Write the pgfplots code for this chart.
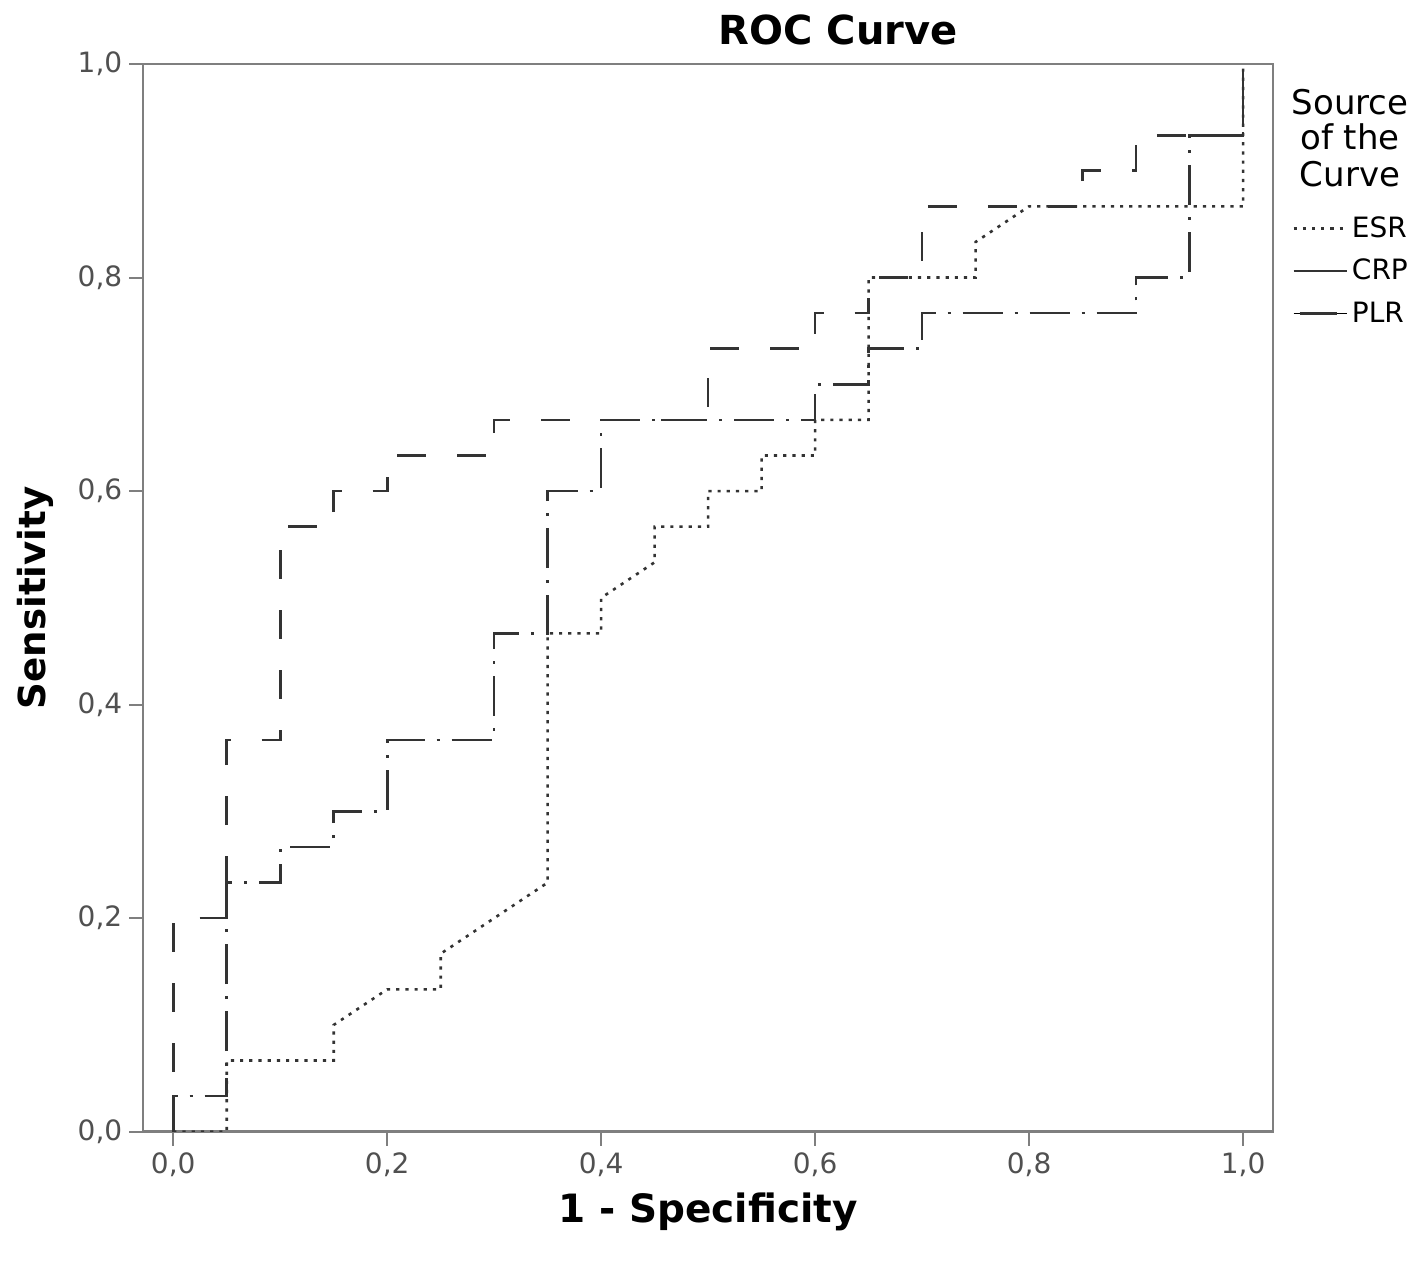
\documentclass[border=0pt]{standalone}
\usepackage{pgfplots}
\pgfplotsset{compat=1.18}
\usepackage{fontspec}
\setmainfont{DejaVu Sans}
\setsansfont{DejaVu Sans}
\definecolor{curve}{HTML}{333333}
\definecolor{framec}{HTML}{7F7F7F}
\definecolor{tickc}{HTML}{505050}
\begin{document}
\begin{tikzpicture}
\useasboundingbox (-71.65pt,-65.15pt) rectangle (637.35pt,565.85pt);
\begin{axis}[
  at={(0pt,0pt)}, anchor=south west,
  scale only axis,
  width=564.85pt, height=533.85pt,
  xmin=-0.028, xmax=1.028, ymin=0, ymax=1,
  xtick={0,0.2,0.4,0.6,0.8,1.0},
  ytick={0,0.2,0.4,0.6,0.8,1.0},
  tick align=outside,
  xtick pos=left, ytick pos=left,
  major tick length=7pt,
  tick style={draw=framec, line width=1pt},
  axis line style={draw=framec, line width=1.2pt},
  ticklabel style={font=\fontsize{14}{16}\selectfont, color=tickc},
  /pgf/number format/fixed, /pgf/number format/fixed zerofill,
  /pgf/number format/precision=1, /pgf/number format/use comma,
  /pgf/number format/assume math mode=true,
  xlabel={1 - Specificity},
  xlabel style={font=\bfseries\fontsize{19.5}{22}\selectfont, at={(axis description cs:0.5,-0.0846)}, anchor=base},
  ylabel={Sensitivity},
  ylabel style={font=\bfseries\fontsize{18.6}{22}\selectfont, at={(axis description cs:-0.087,0.5)}, anchor=base},
  legend style={at={(axis description cs:1.0168,0.8614)}, anchor=north west, draw=none, fill=none, inner sep=0pt,
    font=\fontsize{14}{16}\selectfont, row sep=5.5pt,
    /tikz/every even column/.append style={column sep=4pt}},
  legend cell align=left,
]
\addlegendimage{legend image code/.code={\draw[curve, line width=1.3pt, dash pattern=on 1.6pt off 3pt] (0pt,0pt) -- (26.5pt,0pt);}}
\addlegendentry{ESR}
\addlegendimage{legend image code/.code={\draw[curve, line width=1.3pt] (0pt,0pt) -- (26.5pt,0pt);}}
\addlegendentry{CRP}
\addlegendimage{legend image code/.code={\path (0pt,0pt) -- (26.5pt,0pt); \draw[curve, line width=1.3pt] (3pt,0pt) -- (21.5pt,0pt);}}
\addlegendentry{PLR}

% ESR (dotted)
\addplot[curve, line width=1.3pt, dash pattern=on 1.6pt off 3pt, forget plot] coordinates {
(0,0) (0.05,0) (0.05,0.0667) (0.15,0.0667) (0.15,0.1) (0.2,0.1333) (0.25,0.1333) (0.25,0.1667)
(0.35,0.2333) (0.35,0.4667) (0.4,0.4667) (0.4,0.5) (0.45,0.5333) (0.45,0.5667) (0.5,0.5667)
(0.5,0.6) (0.55,0.6) (0.55,0.6333) (0.6,0.6333) (0.6,0.6667) (0.65,0.6667) (0.65,0.8) (0.75,0.8)
(0.75,0.8333) (0.8,0.8667) (1,0.8667) (1,1)};

% CRP (dash-dot)
\addplot[curve, line width=1.3pt, dash pattern=on 20pt off 6pt on 1.5pt off 6pt, forget plot] coordinates {
(0,0) (0,0.0333) (0.05,0.0333) (0.05,0.2333) (0.1,0.2333) (0.1,0.2667) (0.15,0.2667) (0.15,0.3)
(0.2,0.3) (0.2,0.3667) (0.3,0.3667) (0.3,0.4667) (0.35,0.4667) (0.35,0.6) (0.4,0.6) (0.4,0.6667)
(0.6,0.6667) (0.6,0.7) (0.65,0.7) (0.65,0.7333) (0.7,0.7333) (0.7,0.7667) (0.9,0.7667) (0.9,0.8)
(0.95,0.8) (0.95,0.9333) (1,0.9333) (1,1)};

% PLR (dashed)
\addplot[curve, line width=1.3pt, dash pattern=on 14.5pt off 15.5pt, forget plot] coordinates {
(0,0) (0,0.2) (0.05,0.2) (0.05,0.3667) (0.1,0.3667) (0.1,0.5667) (0.15,0.5667) (0.15,0.6)
(0.2,0.6) (0.2,0.6333) (0.3,0.6333) (0.3,0.6667) (0.5,0.6667) (0.5,0.7333) (0.6,0.7333)
(0.6,0.7667) (0.65,0.7667) (0.65,0.8) (0.7,0.8) (0.7,0.8667) (0.85,0.8667) (0.85,0.9) (0.9,0.9)
(0.9,0.9333) (1,0.9333) (1,1)};
\end{axis}
\node[font=\bfseries\fontsize{20}{24}\selectfont, anchor=base] at (347.35pt,543.35pt) {ROC Curve};
\node[font=\fontsize{17}{18}\selectfont, anchor=base] at (603.35pt,508.35pt) {Source};
\node[font=\fontsize{17}{18}\selectfont, anchor=base] at (603.35pt,490.85pt) {of the};
\node[font=\fontsize{17}{18}\selectfont, anchor=base] at (603.35pt,472.35pt) {Curve};
\end{tikzpicture}
\end{document}
